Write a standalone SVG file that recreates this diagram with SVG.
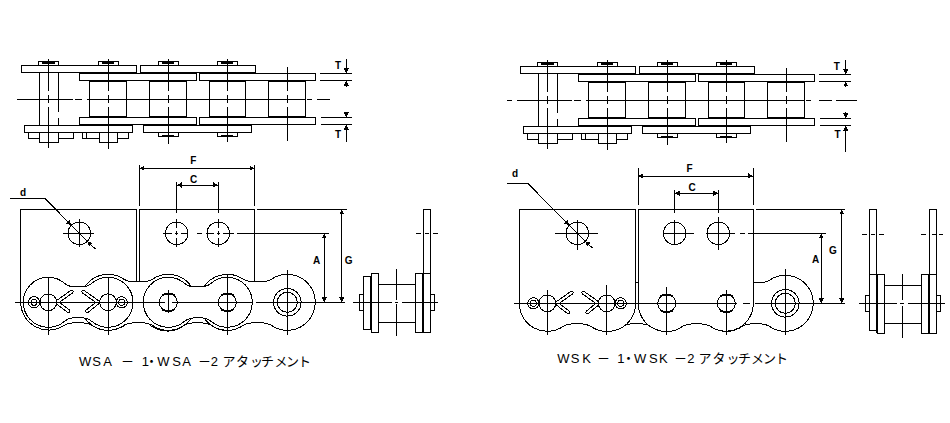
<svg xmlns="http://www.w3.org/2000/svg" xmlns:xlink="http://www.w3.org/1999/xlink" width="950" height="423" viewBox="0 0 950 423">
<style>
.l{fill:none;stroke:#000;stroke-width:1}
.f{fill:#fff;stroke:#000;stroke-width:1}
.h{fill:none;stroke:#000;stroke-width:2}
.leg{fill:none;stroke:#000;stroke-width:4;stroke-linecap:round}
.legw{fill:none;stroke:#fff;stroke-width:2;stroke-linecap:round}
.t{font-family:"Liberation Sans",Arial,sans-serif;font-weight:bold;font-size:10px;fill:#000;text-anchor:middle}
.cap{font-family:"Liberation Sans","Noto Sans CJK JP",sans-serif;font-size:13px;fill:#000}
svg *{shape-rendering:crispEdges}
</style>
<defs>
<marker id="a" markerUnits="userSpaceOnUse" markerWidth="6" markerHeight="6" refX="5" refY="3" orient="auto-start-reverse"><path d="M0,0.4L5,3L0,5.6Z" fill="#000"/></marker>
<g id="chain">
  <g class="l">
    <path d="M39.3,72.7V125.3M58.7,72.7V112M58.7,118V125.3"/>
    <rect class="f" x="89.3" y="81" width="37.4" height="35.7"/>
    <rect class="f" x="149.3" y="81" width="37.4" height="35.7"/>
    <rect class="f" x="209.3" y="81" width="36" height="35.7"/>
    <rect class="f" x="268.3" y="81" width="37" height="35.7"/>
    <rect class="f" x="21.3" y="65.3" width="115.4" height="7.4"/>
    <rect class="f" x="140.3" y="65.3" width="115.4" height="7.4"/>
    <rect class="f" x="79.3" y="73.3" width="117.4" height="7.4"/>
    <rect class="f" x="199.3" y="73.3" width="116" height="7.4"/>
    <rect class="f" x="79.3" y="117.3" width="117.4" height="7.4"/>
    <rect class="f" x="199.3" y="117.3" width="116" height="7.4"/>
    <rect class="f" x="24.3" y="125.3" width="108" height="7"/>
    <rect class="f" x="143.3" y="125.3" width="108.4" height="7"/>
    <rect x="38.3" y="61.3" width="20.4" height="4"/>
    <rect x="98" y="61.3" width="20" height="4"/>
    <rect x="158" y="61.3" width="20" height="4"/>
    <rect x="217.3" y="61.3" width="20" height="4"/>
    <rect x="158" y="132.7" width="20" height="4"/>
    <rect x="217.3" y="132.7" width="20" height="4"/>
    <path d="M28.3,132.3V138.3H39.3M58.7,138.3H73.3V132.3M39.3,132.3V142.3H58.7V132.3"/>
    <path d="M82.3,132.3V138.3H99.3M86.7,132.3V138.3M117.3,138.3H128.7V132.3M99.3,132.3V142.3H117.3V132.3"/>
  </g>
  <path class="h" d="M42,62.6H55M102,62.6H114M162,62.6H174M221,62.6H233M162,135.6H174M221,135.6H233"/>
  <g class="l">
    <path d="M48.3,59.3V91M48.3,95V103M48.3,107V147.7"/>
    <path d="M108,59.3V91M108,95V103M108,107V149"/>
    <path d="M168.3,59.3V91M168.3,95V103M168.3,107V144"/>
    <path d="M227.3,59.3V91M227.3,95V103M227.3,107V141.7"/>
    <path d="M287.3,66.7V91M287.3,95V103M287.3,107V140.7"/>
  </g>
</g>
</defs>

<rect width="950" height="423" fill="#fff"/>

<g id="wsa-top-view">
  <use href="#chain" xlink:href="#chain"/>
  <path class="l" d="M17,99.3H73M75,99.3H82M87,99.3H305M307,99.3H312M317,99.3H330"/>
</g>
<g id="wsk-top-view">
  <use href="#chain" xlink:href="#chain" transform="translate(499,1)"/>
  <path class="l" d="M507,100.3H512M517,100.3H572M574,100.3H581M586,100.3H804M806,100.3H811M819,100.3H832M836,100.3H857"/>
</g>

<g id="wsa-front-view">
  <path class="f" d="M20.7,209.3H136.7V302.3A28.4 28 0 0 1 92,325.3C87,322.5 83,322.8 78.2,322.8S69.3,322.5 64.3,325.3A28 28 0 0 1 20.7,302.3Z"/>
  <path class="f" d="M139.3,209.3H254.7V302.3A27.4 28 0 0 1 211.3,325.3C206.3,322.5 202.8,322.8 197.8,322.8S189.3,322.5 184.3,325.3A28 28 0 0 1 139.3,302.3Z"/>
  <path class="f" d="M124,279.3C129,282.3 133,281.8 138.2,281.8S147.3,282.3 152.3,279.3A28 28 0 1 1 152.3,325.3C147.3,322.3 143,322.8 138.2,322.8S129,322.3 124,325.3A28 28 0 1 1 124,279.3Z"/>
  <path class="f" d="M243.3,279.3C248.3,282.3 252,281.8 257.3,281.8S266.3,282.3 271.3,279.3A28 28 0 1 1 271.3,325.3C266.3,322.3 262,322.8 257.3,322.8S248.3,322.3 243.3,325.3A28 28 0 1 1 243.3,279.3Z"/>
  <path class="f" d="M64.3,283.1C69.3,287.3 73,286.8 78.2,286.8S87,287.3 92,283.1A25 25 0 1 1 92,321.5C87,317.3 83.4,317.8 78.2,317.8S69.3,317.3 64.3,321.5A25 25 0 1 1 64.3,283.1Z"/>
  <path class="f" d="M184.3,283.1C189.3,287.3 193,286.8 197.8,286.8S206.3,287.3 211.3,283.1A25 25 0 1 1 211.3,321.5C206.3,317.3 202.3,317.8 197.8,317.8S189.3,317.3 184.3,321.5A25 25 0 1 1 184.3,283.1Z"/>

  <path class="leg" d="M71.7,291.7L56.7,302.3L68.3,311"/><path class="legw" d="M71.7,291.7L56.7,302.3L68.3,311"/>
  <path class="leg" d="M83.3,291.7L98.3,302.3L87.3,311"/><path class="legw" d="M83.3,291.7L98.3,302.3L87.3,311"/>
  <g class="f">
    <circle cx="48.3" cy="302.3" r="8.4"/>
    <circle cx="108" cy="302.3" r="8.4"/>
    <circle cx="34" cy="302.3" r="5.6"/><circle cx="34" cy="302.3" r="3"/>
    <circle cx="121.7" cy="302.3" r="5.6"/><circle cx="121.7" cy="302.3" r="3"/>
    <circle cx="168.3" cy="302.3" r="9"/>
    <circle cx="227.3" cy="302.3" r="9"/>
    <circle cx="287.3" cy="302.3" r="13.8"/>
    <circle cx="287.3" cy="302.3" r="10"/>
  </g>
  <path class="h" d="M162,295.2Q168.3,291.8 174.6,295.2M162,309.4Q168.3,312.8 174.6,309.4M221,295.2Q227.3,291.8 233.6,295.2M221,309.4Q227.3,312.8 233.6,309.4"/>
  <g class="l">
    <circle cx="79.3" cy="233.3" r="11.3"/>
    <circle cx="176.7" cy="233.3" r="11.3"/>
    <circle cx="218.3" cy="233.3" r="11.3"/>
    <path d="M63.3,233.3H94M79.3,219V247"/>
    <path d="M163.3,233.3H172M175,233.3H178M181,233.3H188.3M196.7,233.3H201.7M206,233.3H214M217,233.3H220M223,233.3H234M176.7,219V228M176.7,231V235M176.7,238V247M218.3,219V228M218.3,231V235M218.3,238V247"/>
    <path d="M15,302.3H165M172,302.3H252M256,302.3H320"/>
    <path d="M48.3,276.7V335M108,276.7V335M168.3,290V313M227.3,275V335M287.3,270V335"/>
  </g>
</g>

<g id="wsa-side-view">
  <g class="l">
    <path d="M378.7,284.3H415.3M378.7,322.3H415.3"/>
    <rect class="f" x="359.3" y="294.3" width="6" height="16"/>
    <rect class="f" x="428.7" y="294.3" width="6" height="16"/>
    <rect class="f" x="363.3" y="276" width="7.4" height="53.3"/>
    <rect class="f" x="371.3" y="273.3" width="7.4" height="59.4"/>
    <rect class="f" x="415.3" y="273.3" width="7.4" height="59.4"/>
    <rect class="f" x="423.3" y="209.3" width="7.4" height="123.4"/>
    <path d="M423.3,273.3H430.7"/>
    <path d="M353,302.3H392M395,302.3H398M402,302.3H438M396.3,269V300M396.3,304V335.7"/>
    <path d="M416,233.3H421M425,233.3H429M433,233.3H438"/>
  </g>
  <path class="h" d="M423,273.3V332.7"/>
</g>

<g id="wsk-front-view">
  <path class="f" d="M742.3,280.3C747.3,283.3 751,282.8 756.8,282.8S764.3,283.3 769.3,280.3A28 28 0 1 1 769.3,326.3C764.3,323.3 761,323.8 756.8,323.8S747.3,323.3 742.3,326.3A28 28 0 1 1 742.3,280.3Z"/>
  <path class="f" d="M622.7,280.3C627.7,283.3 632,282.8 636.7,282.8S645.7,283.3 650.7,280.3A28 28 0 1 1 650.7,326.3C645.7,323.3 641,323.8 636.7,323.8S627.7,323.3 622.7,326.3A28 28 0 1 1 622.7,280.3Z"/>
  <path class="f" d="M519.3,209.3H635.7V303.3A28.4 28 0 0 1 590.7,326.3C585.7,323.5 582,323.8 577,323.8S568.3,323.5 563.3,326.3A28 28 0 0 1 519.3,303.3Z"/>
  <path class="f" d="M638.3,209.3H753.3V303.3A27.4 28 0 0 1 710.3,326.3C705.3,323.5 701.5,323.8 696.5,323.8S687.7,323.5 682.7,326.3A28 28 0 0 1 638.3,303.3Z"/>
  <path class="leg" d="M571.7,292.7L556.7,303.3L568.3,312.3"/><path class="legw" d="M571.7,292.7L556.7,303.3L568.3,312.3"/>
  <path class="leg" d="M583.3,292.7L598.3,303.3L587.3,312.3"/><path class="legw" d="M583.3,292.7L598.3,303.3L587.3,312.3"/>
  <g class="f">
    <circle cx="547.3" cy="303.3" r="8.4"/>
    <circle cx="606.7" cy="303.3" r="8.4"/>
    <circle cx="533.3" cy="303.3" r="5.6"/><circle cx="533.3" cy="303.3" r="3"/>
    <circle cx="620.7" cy="303.3" r="5.6"/><circle cx="620.7" cy="303.3" r="3"/>
    <circle cx="666.7" cy="303.3" r="9"/>
    <circle cx="726.3" cy="303.3" r="9"/>
    <circle cx="785.3" cy="303.3" r="13.8"/>
    <circle cx="785.3" cy="303.3" r="10"/>
  </g>
  <path class="h" d="M660.4,296.2Q666.7,292.8 673,296.2M660.4,310.4Q666.7,313.8 673,310.4M720,296.2Q726.3,292.8 732.6,296.2M720,310.4Q726.3,313.8 732.6,310.4"/>
  <g class="l">
    <circle cx="577.3" cy="233.3" r="11.3"/>
    <circle cx="674.7" cy="233.3" r="11.3"/>
    <circle cx="718.3" cy="233.3" r="11.3"/>
    <path d="M555,233.3H598M577.3,220V250M663,233.3H694M674.7,220V245M706,233.3H735M718.3,217V250M740,233.3H745"/>
    <path d="M514,303.3H737M743,303.3H750M755,303.3H816"/>
    <path d="M547.3,290V335M606.7,285V335M666.7,287V335M726.3,290V335M785.3,269.3V335"/>
  </g>
</g>

<g id="wsk-side-view">
  <g class="l">
    <path d="M884.7,285.3H921.3M884.7,323.3H921.3"/>
    <rect class="f" x="865.3" y="295.3" width="6" height="16"/>
    <rect class="f" x="934.7" y="295.3" width="6" height="16"/>
    <rect class="f" x="869.3" y="209.3" width="7.4" height="121"/>
    <path d="M869.3,274.3H884.7"/>
    <rect class="f" x="877.3" y="274.3" width="7.4" height="59"/>
    <rect class="f" x="921.3" y="274.3" width="7.4" height="59"/>
    <rect class="f" x="929.3" y="209.3" width="7.4" height="124"/>
    <path d="M929.3,274.3H936.7"/>
    <path d="M859,303.3H897M900,303.3H904M908,303.3H945M902.3,274V300M902.3,306V338.3"/>
    <path d="M861.7,234.3H867M871,234.3H875M879,234.3H884M921,234.3H926M932,234.3H936M939,234.3H943"/>
  </g>
  <path class="h" d="M877,274.3V333.3M929,274.3V333.3"/>
</g>

<g id="connectors">
  <g class="l">
    <path d="M320,73.3H352M320,80.7H352M321,117.3H352M321,124.7H352"/>
    <path marker-end="url(#a)" d="M346.3,59V73.3"/>
    <path marker-end="url(#a)" d="M346.3,86.7V80.7"/>
    <path marker-end="url(#a)" d="M346.3,111.7V117.3"/>
    <path marker-end="url(#a)" d="M346.3,141.7V124.7"/>
    <path d="M819.3,74.3H851M819.3,81.3H851M820,118.3H851M820,125.7H851"/>
    <path marker-end="url(#a)" d="M845.7,60V74.3"/>
    <path marker-end="url(#a)" d="M845.7,87.3V81.3"/>
    <path marker-end="url(#a)" d="M845.7,112.3V118.3"/>
    <path marker-end="url(#a)" d="M845.7,151.7V125.7"/>

    <path d="M139.3,165V206M254.7,165V206M176.7,182V212.7M218.3,182V212.7"/>
    <path marker-start="url(#a)" marker-end="url(#a)" d="M139.3,168.3H254.7"/>
    <path marker-start="url(#a)" marker-end="url(#a)" d="M176.7,185H218.3"/>
    <path d="M256.7,209.3H346.7M236.7,233.3H329M345,302.3H320"/>
    <path marker-start="url(#a)" marker-end="url(#a)" d="M324.3,233.3V302.3"/>
    <path marker-start="url(#a)" marker-end="url(#a)" d="M341.7,209.3V302.3"/>
    <path marker-end="url(#a)" d="M10,198.3H45L71.3,225.3"/>
    <path d="M71.3,225.3L87.3,241.3"/>
    <path marker-end="url(#a)" d="M95.7,249.3L87.3,241.3"/>

    <path d="M638.3,168V205M753.3,168V205M674.7,190V213.3M718.3,190V213.3"/>
    <path marker-start="url(#a)" marker-end="url(#a)" d="M638.3,176H753.3"/>
    <path marker-start="url(#a)" marker-end="url(#a)" d="M674.7,193.3H718.3"/>
    <path d="M756,209.3H845M748,233.3H825.7M845,303.3H816"/>
    <path marker-start="url(#a)" marker-end="url(#a)" d="M821.3,233.3V303.3"/>
    <path marker-start="url(#a)" marker-end="url(#a)" d="M841.7,209.3V303.3"/>
    <path marker-end="url(#a)" d="M507.3,183.3H527.7L569.3,225.3"/>
    <path d="M569.3,225.3L585.3,241.3"/>
    <path marker-end="url(#a)" d="M592.7,248.3L585.3,241.3"/>
  </g>
</g>

<g id="labels">
  <text class="t" x="193.3" y="163.5">F</text>
  <text class="t" x="193.5" y="182.5">C</text>
  <text class="t" x="23" y="195.7">d</text>
  <text class="t" x="338" y="69">T</text>
  <text class="t" x="338" y="138.3">T</text>
  <text class="t" x="316.7" y="264">A</text>
  <text class="t" x="348.6" y="264">G</text>
  <text class="t" x="689.5" y="171.7">F</text>
  <text class="t" x="692" y="190.7">C</text>
  <text class="t" x="515" y="176.7">d</text>
  <text class="t" x="836.7" y="70">T</text>
  <text class="t" x="837.5" y="138">T</text>
  <text class="t" x="815.5" y="263">A</text>
  <text class="t" x="833" y="254">G</text>
  <text class="cap" y="366" x="79 92.3 103.3 121 141.7 145 157.3 172.3 182.3 198 210.7 222.5 236 250 261 274.5 286 298">WSA－1・WSA－2アタッチメント</text>
  <text class="cap" y="363" x="557.3 570.7 582.3 597 617.3 622 634 649 659 674 687.3 698.5 712.5 726.5 738 751 763 775">WSK－1・WSK－2アタッチメント</text>
</g>
</svg>
